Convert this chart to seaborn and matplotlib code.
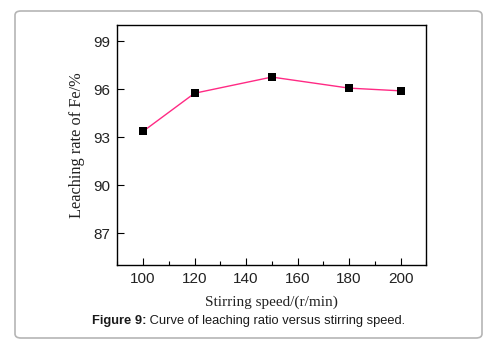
import matplotlib
matplotlib.use("Agg")
import matplotlib.pyplot as plt
import seaborn as sns
from matplotlib.patches import FancyBboxPatch
from matplotlib.ticker import MultipleLocator
from pandas import DataFrame

# Data
stirring_speed = [100, 120, 150, 180, 200]
leaching_rate = [93.36, 95.74, 96.75, 96.06, 95.89]
y_ticks = [87, 90, 93, 96, 99]
x_ticks = [100, 120, 140, 160, 180, 200]

sns.set_theme(style="ticks")
plt.rcParams['font.family'] = ['Liberation Sans', 'DejaVu Sans']

df = DataFrame({'speed': stirring_speed, 'rate': leaching_rate})

fig = plt.figure(figsize=(4.96, 3.49), dpi=100)
ax = fig.add_axes([117.3 / 496, 1 - 265.3 / 349, 309 / 496, 240.3 / 349])

# Rounded frame around the whole figure
frame = FancyBboxPatch(
    (15 / 496, 11 / 349), 467 / 496, 327 / 349,
    boxstyle="round,pad=0,rounding_size=0.012",
    transform=fig.transFigure, facecolor='none', edgecolor='#b5b5b5',
    linewidth=1.2, zorder=0)
fig.patches.append(frame)

sns.lineplot(data=df, x='speed', y='rate', color='#ff2a84', linewidth=1.0,
             ax=ax, zorder=2)
sns.scatterplot(data=df, x='speed', y='rate', marker='s', color='black',
                s=36, edgecolor='black', linewidth=0, ax=ax, zorder=3)

ax.set_xlim(90, 210)
ax.set_ylim(85, 100)
ax.set_xticks(x_ticks)
ax.set_yticks(y_ticks)
ax.xaxis.set_minor_locator(MultipleLocator(10))
ax.tick_params(axis='both', which='both', direction='in', top=False, right=False,
               labelsize=11, width=0.8, color='black', labelcolor='#222222')
ax.tick_params(axis='both', which='major', length=5, pad=5)
ax.tick_params(axis='x', which='minor', length=3)
for s in ax.spines.values():
    s.set_linewidth(1.0)
    s.set_color('black')
    s.set_visible(True)

ax.set_xlabel("Stirring speed/(r/min)", family='Liberation Serif', fontsize=11,
              color='#222222', labelpad=7)
ax.set_ylabel("Leaching rate of Fe/%", family='Liberation Serif', fontsize=11.8,
              color='#222222', labelpad=6)

# Caption: bold label followed by plain text
cap = fig.text(92 / 496, 1 - 321 / 349, "Figure 9:", fontsize=9.3,
               fontweight='bold', va='center', ha='left', color='#1a1a1a')
ax.annotate(" Curve of leaching ratio versus stirring speed.", xy=(1, 0.5),
            xycoords=cap, va='center', ha='left', fontsize=9.3,
            color='#1a1a1a', annotation_clip=False)

fig.savefig("out.png", dpi=100)
